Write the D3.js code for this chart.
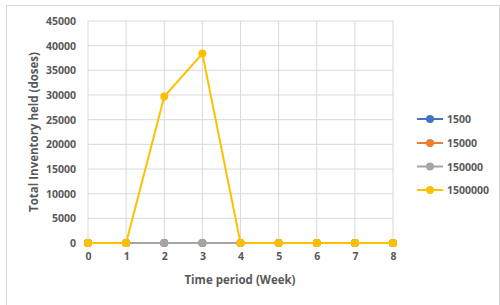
<!DOCTYPE html>
<html>
<head>
<meta charset="utf-8">
<script src="https://cdn.jsdelivr.net/npm/d3@7"></script>
<style>
  body { margin: 0; background: #fff; }
  text { font-family: "Open Sans", "Liberation Sans", sans-serif; }
</style>
</head>
<body>
<div id="chart"></div>
<script>
// Data
var weeks = [0, 1, 2, 3, 4, 5, 6, 7, 8];
var seriesNames = ["1500", "15000", "150000", "1500000"];
var s1500 = [0, 0, 0, 0, 0, 0, 0, 0, 0];
var s15000 = [0, 0, 0, 0, 0, 0, 0, 0, 0];
var s150000 = [0, 0, 0, 0, 0, 0, 0, 0, 0];
var s1500000 = [0, 0, 29700, 38400, 0, 0, 0, 0, 0];
var yTicks = [0, 5000, 10000, 15000, 20000, 25000, 30000, 35000, 40000, 45000];
var colors = ["#4472C4", "#ED7D31", "#A5A5A5", "#FFC000"];

var W = 500, H = 305;
var margin = {left: 88, right: 107, top: 21, bottom: 62};
var width = W - margin.left - margin.right,
    height = H - margin.top - margin.bottom;

var svg = d3.select("#chart").append("svg")
  .attr("width", W).attr("height", H);

// chart border
svg.append("rect")
  .attr("x", 6.5).attr("y", 5.5)
  .attr("width", W - 7).attr("height", H - 5)
  .attr("fill", "none").attr("stroke", "#d9d9d9");

var g = svg.append("g")
  .attr("transform", "translate(" + margin.left + "," + margin.top + ")");

var x = d3.scaleLinear().domain([0, 8]).range([0, width]);
var y = d3.scaleLinear().domain([0, 45000]).range([height, 0]);

// grid
g.selectAll(".vgrid").data(weeks).enter().append("line")
  .attr("x1", function(d){ return x(d); }).attr("x2", function(d){ return x(d); })
  .attr("y1", 0).attr("y2", height)
  .attr("stroke", "#d9d9d9").attr("stroke-width", 1);
g.selectAll(".hgrid").data(yTicks).enter().append("line")
  .attr("x1", 0).attr("x2", width)
  .attr("y1", function(d){ return y(d); }).attr("y2", function(d){ return y(d); })
  .attr("stroke", "#d9d9d9").attr("stroke-width", 1);

// axes
var xAxis = g.append("g")
  .attr("transform", "translate(0," + height + ")")
  .call(d3.axisBottom(x).tickValues(weeks).tickSize(0).tickPadding(10));
xAxis.select(".domain").attr("stroke", "#bfbfbf");
var yAxis = g.append("g")
  .call(d3.axisLeft(y).tickValues(yTicks).tickFormat(d3.format("d")).tickSize(0).tickPadding(12));
yAxis.select(".domain").remove();
g.selectAll(".tick text")
  .attr("fill", "#595959").attr("font-size", "10.5px").attr("font-weight", "bold")
  .style("font-family", "'Open Sans', sans-serif");

// series
var allSeries = [s1500, s15000, s150000, s1500000];
var line = d3.line()
  .x(function(d, i){ return x(weeks[i]); })
  .y(function(d){ return y(d); });

allSeries.forEach(function(vals, k){
  g.append("path").datum(vals)
    .attr("d", line)
    .attr("fill", "none")
    .attr("stroke", colors[k])
    .attr("stroke-width", 2);
  g.selectAll(".pt" + k).data(vals).enter().append("circle")
    .attr("cx", function(d, i){ return x(weeks[i]); })
    .attr("cy", function(d){ return y(d); })
    .attr("r", 4)
    .attr("fill", colors[k]);
});

// axis titles
svg.append("text")
  .attr("x", 240).attr("y", 284)
  .attr("text-anchor", "middle")
  .attr("fill", "#595959").attr("font-size", "11.5px").attr("font-weight", "bold")
  .text("Time period (Week)");
svg.append("text")
  .attr("transform", "translate(38,132) rotate(-90)")
  .attr("text-anchor", "middle")
  .attr("fill", "#595959").attr("font-size", "11.5px").attr("font-weight", "bold")
  .text("Total Inventory held (doses)");

// legend
var legendY = [119, 143, 166.5, 190];
var legend = svg.selectAll(".legend").data(seriesNames).enter().append("g")
  .attr("transform", function(d, i){ return "translate(417," + legendY[i] + ")"; });
legend.append("line")
  .attr("x1", 0).attr("x2", 26).attr("y1", 0).attr("y2", 0)
  .attr("stroke", function(d, i){ return colors[i]; }).attr("stroke-width", 2);
legend.append("circle")
  .attr("cx", 13).attr("cy", 0).attr("r", 4)
  .attr("fill", function(d, i){ return colors[i]; });
legend.append("text")
  .attr("x", 30).attr("y", 4)
  .attr("fill", "#595959").attr("font-size", "10.5px").attr("font-weight", "bold")
  .text(function(d){ return d; });
</script>
</body>
</html>
